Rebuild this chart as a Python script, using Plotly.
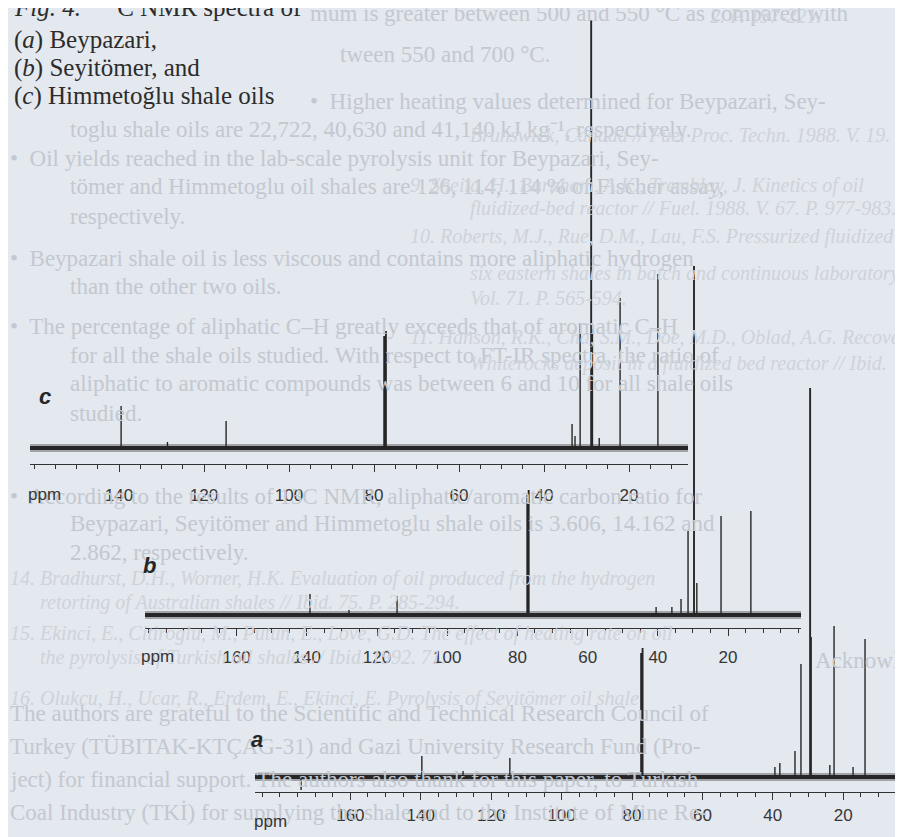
import plotly.graph_objects as go

W, H = 903, 837

# ---------------- data ----------------
tick_vals_c = [140, 120, 100, 80, 60, 40, 20]
tick_text_c = ["140", "120", "100", "80", "60", "40", "20"]
tick_vals_ab = [160, 140, 120, 100, 80, 60, 40, 20]
tick_text_ab = ["160", "140", "120", "100", "80", "60", "40", "20"]

# (c) Himmetoglu shale oil
c_ppm = [139.5, 128.6, 114.8, 33.4, 32.7, 31.5, 28.6, 27.0, 22.1, 13.2]
c_int = [42, 6, 27, 24, 12, 125, 119, 10, 150, 174]
c_strong_ppm = [77.6, 77.2, 28.9]
c_strong_int = [112, 117, 428]

# (b) Seyitomer shale oil
b_ppm = [139.1, 128.0, 114.3, 40.5, 36.0, 33.4, 31.4, 28.9, 22.0, 13.5]
b_int = [21, 5, 19, 8, 8, 16, 84, 32, 99, 104]
b_strong_ppm = [77.2, 76.8, 29.7]
b_strong_int = [120, 125, 349]

# (a) Beypazari shale oil
a_ppm = [174.0, 139.7, 128.0, 114.7, 39.4, 38.0, 33.7, 32.0, 29.1, 23.8, 22.6, 17.2, 13.8]
a_int = [-13, 21, 6, 19, 10, 14, 26, 113, 140, 12, 151, 10, 138]
a_strong_ppm = [77.4, 77.0, 29.4]
a_strong_int = [124, 129, 389]

caption_lines = ["<i>Fig. 4.</i>   <sup>13</sup>C NMR spectra of",
                 "(<i>a</i>) Beypazari,",
                 "(<i>b</i>) Seyitömer, and",
                 "(<i>c</i>) Himmetoğlu shale oils"]

body_lines = [
    (300, 5, "mum is greater between 500 and 550 °C as compared with"),
    (330, 46, "tween 550 and 700 °C."),
    (300, 93, "•  Higher heating values determined for Beypazari, Sey-"),
    (60, 121, "toglu shale oils are 22,722, 40,630 and 41,140 kJ kg⁻¹, respectively."),
    (0, 150, "•  Oil yields reached in the lab-scale pyrolysis unit for Beypazari, Sey-"),
    (60, 179, "tömer and Himmetoglu oil shales are 126, 114, 114 % of Fischer assay,"),
    (60, 208, "respectively."),
    (0, 250, "•  Beypazari shale oil is less viscous and contains more aliphatic hydrogen"),
    (60, 279, "than the other two oils."),
    (0, 318, "•  The percentage of aliphatic C–H greatly exceeds that of aromatic C–H"),
    (60, 347, "for all the shale oils studied. With respect to FT-IR spectra, the ratio of"),
    (60, 376, "aliphatic to aromatic compounds was between 6 and 10 for all shale oils"),
    (60, 405, "studied."),
    (0, 488, "•  According to the results of 13C NMR, aliphatic/aromatic carbon ratio for"),
    (60, 515, "Beypazari, Seyitömer and Himmetoglu shale oils is 3.606, 14.162 and"),
    (60, 544, "2.862, respectively."),
    (805, 652, "Acknowledgements"),
    (0, 705, "The authors are grateful to the Scientific and Technical Research Council of"),
    (0, 738, "Turkey (TÜBITAK-KTÇAG-31) and Gazi University Research Fund (Pro-"),
    (0, 771, "ject) for financial support. The authors also thank for this paper, to Turkish"),
    (0, 804, "Coal Industry (TKİ) for supplying the shale and to the Institute of Mine Re-"),
]

ref_lines = [
    (700, 8, "2. P. 197-221."),
    (460, 127, "Brunswick, Canada // Fuel Proc. Techn. 1988. V. 19."),
    (400, 177, "9. Sheila, H., Burnham, A.K., Tremblay, J. Kinetics of oil"),
    (460, 200, "fluidized-bed reactor // Fuel. 1988. V. 67. P. 977-983."),
    (400, 228, "10. Roberts, M.J., Rue, D.M., Lau, F.S. Pressurized fluidized"),
    (460, 265, "six eastern shales in batch and continuous laboratory"),
    (460, 290, "Vol. 71. P. 565-594."),
    (400, 330, "11. Hanson, R.K., Cha, S.M., Doe, M.D., Oblad, A.G. Recovery"),
    (460, 355, "Whiterocks deposit in a fluidized bed reactor // Ibid."),
    (0, 570, "14. Bradhurst, D.H., Worner, H.K. Evaluation of oil produced from the hydrogen"),
    (30, 594, "retorting of Australian shales // Ibid. 75. P. 285-294."),
    (0, 625, "15. Ekinci, E., Citiroglu, M., Putun, E., Love, G.D. The effect of heating rate on oil"),
    (30, 649, "the pyrolysis of Turkish oil shales // Ibid. 1992. 71."),
    (0, 690, "16. Olukcu, H., Ucar, R., Erdem, E., Ekinci, E. Pyrolysis of Seyitömer oil shale"),
]

# ---------------- layout geometry (pixels) ----------------
BG = "#e4e8ef"
INK = "#262626"
SANS = "Liberation Sans, Arial, sans-serif"
SERIF = "Liberation Serif, Times New Roman, serif"

spectra = [
    dict(sfx="", xl=22, xr=680, pl=160.94, pr=6.12, base=440, axis=456, stand=8,
         thin=(c_ppm, c_int), strong=(c_strong_ppm, c_strong_int),
         tv=tick_vals_c, tt=tick_text_c, lab="c", labxy=(37, 388), ppmxy=(36, 486)),
    dict(sfx="2", xl=137, xr=793, pl=186.1, pr=-0.78, base=607, axis=620, stand=6,
         thin=(b_ppm, b_int), strong=(b_strong_ppm, b_strong_int),
         tv=tick_vals_ab, tt=tick_text_ab, lab="b", labxy=(141, 557), ppmxy=(149, 648)),
    dict(sfx="3", xl=247, xr=903, pl=187.1, pr=0.74, base=769, axis=784, stand=0,
         thin=(a_ppm, a_int), strong=(a_strong_ppm, a_strong_int),
         tv=tick_vals_ab, tt=tick_text_ab, lab="a", labxy=(249, 731), ppmxy=(262, 813)),
]


def px(x):
    return x / W


def py(y):
    return 1 - y / H


fig = go.Figure()
annotations = []
layout_axes = {}

for s in spectra:
    xa = "x" + s["sfx"]
    ya = "y" + s["sfx"]
    # noisy baseline band
    for wdt, op in [(8, 0.35), (4, 1.0)]:
        fig.add_trace(go.Scatter(x=[s["pl"], s["pr"]], y=[0, 0], mode="lines",
                                 line=dict(color=INK, width=wdt), opacity=op,
                                 xaxis=xa, yaxis=ya, hoverinfo="skip"))
    for (pp, ii), wdt in [(s["thin"], 1.4), (s["strong"], 1.9)]:
        xs, ys = [], []
        for p, v in zip(pp, ii):
            xs += [p, p, None]
            ys += [0, v, None]
        fig.add_trace(go.Scatter(x=xs, y=ys, mode="lines",
                                 line=dict(color=INK, width=wdt),
                                 xaxis=xa, yaxis=ya, hoverinfo="skip"))
    gap = s["axis"] - s["base"]
    layout_axes["xaxis" + s["sfx"]] = dict(
        domain=[px(s["xl"]), px(s["xr"])], range=[s["pl"], s["pr"]],
        anchor=ya, showline=True, linecolor="#333333", linewidth=1.3,
        showgrid=False, zeroline=False,
        tickmode="array", tickvals=s["tv"], ticktext=s["tt"],
        ticks="outside", ticklen=7, tickwidth=1.3, tickcolor="#333333",
        ticklabelstandoff=s["stand"],
        tickfont=dict(family=SANS, size=17, color="#363636"),
        minor=dict(tickmode="linear", tick0=0, dtick=5, ticks="outside", ticklen=4,
                   tickwidth=1, tickcolor="#333333", showgrid=False),
        fixedrange=True,
    )
    layout_axes["yaxis" + s["sfx"]] = dict(
        domain=[py(s["axis"]), 1.0], range=[-gap, s["base"]],
        visible=False, fixedrange=True, anchor=xa,
    )
    annotations.append(dict(x=px(s["labxy"][0]), y=py(s["labxy"][1]), xref="paper", yref="paper",
                            text="<b><i>%s</i></b>" % s["lab"], showarrow=False,
                            xanchor="center", yanchor="middle",
                            font=dict(family=SANS, size=22, color=INK)))
    annotations.append(dict(x=px(s["ppmxy"][0]), y=py(s["ppmxy"][1]), xref="paper", yref="paper",
                            text="ppm", showarrow=False, xanchor="center", yanchor="middle",
                            font=dict(family=SANS, size=17, color="#363636")))

# faint show-through text (drawn first so it sits under the caption)
bg_ann = []
for x, y, t in body_lines:
    bg_ann.append(dict(x=px(x), y=py(y), xref="paper", yref="paper", text=t, showarrow=False,
                       xanchor="left", yanchor="middle",
                       font=dict(family=SERIF, size=23, color="#c3c8d0")))
for x, y, t in ref_lines:
    bg_ann.append(dict(x=px(x), y=py(y), xref="paper", yref="paper", text="<i>%s</i>" % t,
                       showarrow=False, xanchor="left", yanchor="middle",
                       font=dict(family=SERIF, size=20, color="#ced3da")))

cap_y = [-3, 32, 60, 88]
cap_ann = []
for t, y in zip(caption_lines, cap_y):
    cap_ann.append(dict(x=px(4), y=py(y), xref="paper", yref="paper", text=t, showarrow=False,
                        xanchor="left", yanchor="middle",
                        font=dict(family=SERIF, size=25, color="#2c2c2c")))

fig.update_layout(
    width=W, height=H, margin=dict(l=0, r=0, t=0, b=0),
    paper_bgcolor=BG, plot_bgcolor="rgba(0,0,0,0)", showlegend=False,
    annotations=bg_ann + cap_ann + annotations,
    **layout_axes,
)

fig.write_html("out.html")
